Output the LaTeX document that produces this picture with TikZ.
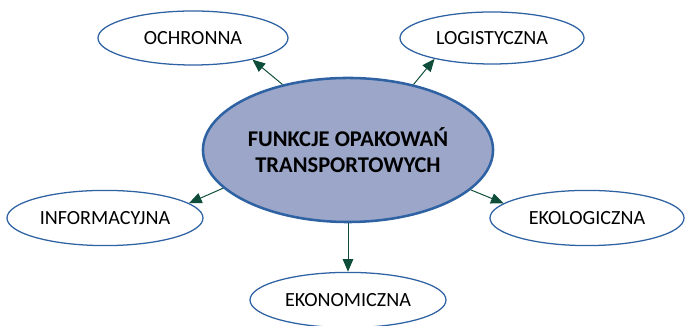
\documentclass[tikz,border=0pt]{standalone}
\usepackage{fontspec}
\setmainfont{Carlito}
\usetikzlibrary{shapes.geometric,arrows.meta}
\definecolor{rimblue}{HTML}{2E62A3}
\definecolor{hubfill}{HTML}{9BA6C9}
\definecolor{arrgreen}{HTML}{0E4D3A}
\tikzset{
    hub/.style={
    ellipse,draw=rimblue,fill=hubfill,line width=1.8pt,inner sep=0pt,
    minimum width=7.25cm,minimum height=3.6cm,align=center,
    font=\fontsize{16}{18}\selectfont\bfseries
    },
    role/.style={
    ellipse,draw=rimblue,fill=white,line width=0.9pt,inner sep=0pt,
    minimum width=4.85cm,minimum height=1.38cm,
    font=\fontsize{14.3}{16}\selectfont
    },
    arr/.style={
    draw=arrgreen,line width=0.7pt,-{Triangle[length=9pt,width=7.5pt]}
    },
}
\begin{document}
\begin{tikzpicture}[x=0.025cm,y=0.025cm]
   \useasboundingbox (0,0) rectangle (686,326);
   \node[hub] (F) at (348,176) {FUNKCJE OPAKOWAŃ\\TRANSPORTOWYCH};

   \node[role,minimum width=4.75cm,minimum height=1.35cm] (och) at (193,288) {OCHRONNA};
   \node[role,minimum width=4.6cm,minimum height=1.3cm] (log) at (492,288) {LOGISTYCZNA};
   \node[role,minimum width=4.9cm] (inf) at (105,108) {INFORMACYJNA};
   \node[role] (eko) at (587,108) {EKOLOGICZNA};
   \node[role,minimum width=4.9cm] (ekn) at (348,26) {EKONOMICZNA};

  \path
    (F.135) edge[arr] (och.-20)
    (F.45) edge[arr] (log.200)
    (F.197) edge[arr] (inf.10)
    (F.342) edge[arr] (eko.170)
    (F.south) edge[arr] (ekn.north);
\end{tikzpicture}
\end{document}
